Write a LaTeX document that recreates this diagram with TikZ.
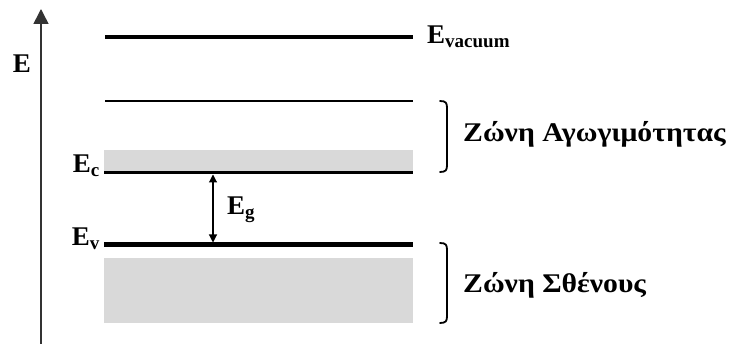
\documentclass[tikz,border=0pt]{standalone}
\usepackage{fontspec}
\setmainfont{Liberation Serif}
\usetikzlibrary{arrows.meta}
\begin{document}
\begin{tikzpicture}[x=1pt,y=-1pt,
  lbl/.style={font=\fontsize{27}{30}\selectfont\bfseries, inner sep=0pt},
  zone/.style={font=\fontsize{27}{30}\selectfont\bfseries, inner sep=0pt, xscale=1.1},
  band/.style={fill=black!15, draw=none},
  level/.style={line width=#1},
  brace/.style={line width=1.8pt, line cap=round},
]
\useasboundingbox (0,0) rectangle (734,344);
% bands
\fill[band] (104,150) rectangle (413,171);
\fill[band] (104,258) rectangle (413,323);
% axis
\coordinate (axb) at (41,344);
\coordinate (axt) at (41,9);
\draw[line width=1.6pt, black!80, -{Triangle[length=15pt,width=15pt]}] (axb) -- (axt);
\node[lbl] (E) at (22,64) {E};
% levels
\coordinate (vl) at (105,37); \coordinate (vr) at (413,37);
\coordinate (ul) at (105,101); \coordinate (ur) at (413,101);
\coordinate (cl) at (104,173); \coordinate (cr) at (413,173);
\coordinate (el) at (104,244.5); \coordinate (er) at (413,244.5);
\draw[level=3.4pt] (vl) -- (vr);
\draw[level=1.8pt] (ul) -- (ur);
\draw[level=3pt] (cl) -- (cr);
\draw[level=4.5pt] (el) -- (er);
% labels
\node[lbl, anchor=base west] (Evac) at (427,44) {E\textsubscript{\fontsize{19}{21}\selectfont vacuum}};
\node[lbl, anchor=base east] (Ec) at (100,173) {E\textsubscript{\fontsize{19}{21}\selectfont c}};
\node[lbl, anchor=base east] (Ev) at (100,246) {E\textsubscript{\fontsize{19}{21}\selectfont v}};
% gap arrow
\coordinate (gt) at (213,174.5);
\coordinate (gb) at (213,242.5);
\draw[line width=1.1pt, {Triangle[length=8pt,width=8pt]}-{Triangle[length=8pt,width=8pt]}] (gt) -- (gb);
\node[lbl, anchor=base west] (Eg) at (227,215) {E\textsubscript{\fontsize{19}{21}\selectfont g}};
% braces
\draw[brace] (440,101) .. controls (446,101) and (447,103) .. (447,108) -- (447,165) .. controls (447,170) and (446,172) .. (440,172);
\draw[brace] (440,243) .. controls (446,243) and (447,245) .. (447,250) -- (447,316) .. controls (447,321) and (446,323) .. (440,323);
\node[zone, anchor=base west] (cb) at (463,142) {Ζώνη Αγωγιμότητας};
\node[zone, anchor=base west] (vb) at (463,293) {Ζώνη Σθένους};
\end{tikzpicture}
\end{document}
